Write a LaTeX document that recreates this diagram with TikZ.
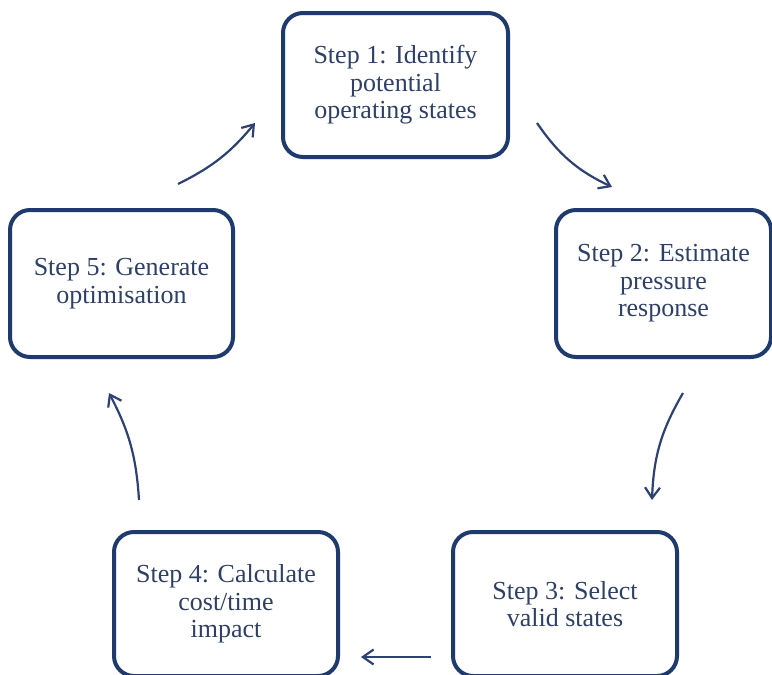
\documentclass[tikz,border=0pt]{standalone}
\usepackage{fontspec}
\setmainfont{Liberation Serif}
\usepackage{xcolor}
\usetikzlibrary{arrows.meta}
\definecolor{boxnavy}{HTML}{1F3B6E}
\definecolor{textnavy}{HTML}{2E4066}
\definecolor{arrownavy}{HTML}{2D4273}

\begin{document}
\begin{tikzpicture}[x=1pt,y=-1pt,
  stepbox/.style={draw=boxnavy,line width=4pt,rounded corners=20pt,fill=white,
    align=center,text=textnavy,font=\fontsize{26}{27.5}\selectfont,inner sep=0pt},
  flow/.style={draw=arrownavy,line width=2.2pt,-{Straight Barb[angle=70:13pt,line width=2.2pt]}}]
\useasboundingbox[fill=white](0,0)rectangle(772,675);
% the five steps
\node[stepbox,minimum width=225pt,minimum height=144pt](s1)at(395.5,85){Step 1: Identify\\potential\\operating states};
\node[stepbox,minimum width=215pt,minimum height=147pt](s2)at(663.5,283.5){Step 2: Estimate\\pressure\\response};
\node[stepbox,minimum width=224pt,minimum height=144pt](s3)at(565,604){Step 3: Select\\valid states};
\node[stepbox,minimum width=224pt,minimum height=144pt](s4)at(226,604){Step 4: Calculate\\cost/time\\impact};
\node[stepbox,minimum width=223pt,minimum height=147pt](s5)at(121.5,283.5){Step 5: Generate\\optimisation};
% arrow ends
\coordinate(a1)at(537,123);\coordinate(b1)at(612,187);
\coordinate(a2)at(683,393);\coordinate(b2)at(652,500);
\coordinate(a3)at(431,657);\coordinate(b3)at(361,657);
\coordinate(a4)at(139,500);\coordinate(b4)at(109,393);
\coordinate(a5)at(178,184);\coordinate(b5)at(255,123);
% arrows
\draw[flow](a1)to[bend right=15](b1);
\draw[flow](a2)to[bend right=14](b2);
\draw[flow](a3)--(b3);
\draw[flow](a4)to[bend right=12](b4);
\draw[flow](a5)to[bend right=12](b5);
\end{tikzpicture}
\end{document}
